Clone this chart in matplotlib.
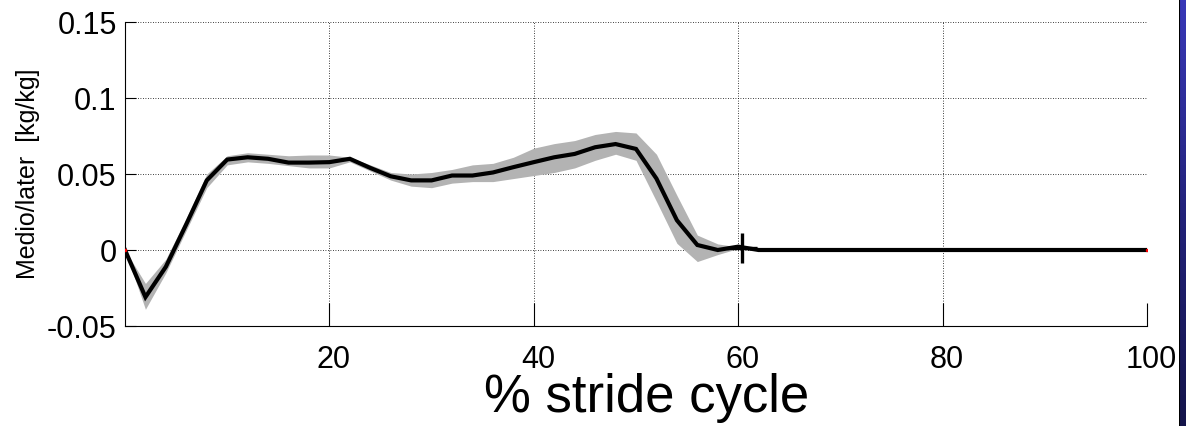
import matplotlib.pyplot as plt
import matplotlib.transforms as mtransforms
import numpy as np

# medio-lateral GRF, mean +/- band
pct = [0, 2, 4, 6, 8, 10, 12, 14, 16, 18, 20, 22, 24, 26, 28, 30, 32, 34, 36, 38,
       40, 42, 44, 46, 48, 50, 52, 54, 56, 58, 60, 62, 100]
grf_mean = [0, -0.031, -0.011, 0.017, 0.0458, 0.0595, 0.061, 0.060, 0.0575, 0.0575,
            0.0578, 0.060, 0.054, 0.0485, 0.0458, 0.0458, 0.049, 0.049, 0.051, 0.0545,
            0.0578, 0.061, 0.0632, 0.0676, 0.0697, 0.0665, 0.047, 0.0196, 0.0033, 0.0,
            0.0022, 0.0, 0.0]
grf_upper = [0, -0.022, -0.006, 0.021, 0.050, 0.062, 0.064, 0.063, 0.062, 0.0625,
             0.0625, 0.061, 0.056, 0.051, 0.050, 0.051, 0.053, 0.056, 0.057, 0.061,
             0.067, 0.070, 0.072, 0.076, 0.078, 0.077, 0.063, 0.036, 0.0098, 0.004,
             0.002, 0, 0]
grf_lower = [0, -0.039, -0.015, 0.013, 0.041, 0.056, 0.058, 0.057, 0.0555, 0.054,
             0.054, 0.058, 0.052, 0.046, 0.042, 0.041, 0.044, 0.045, 0.045, 0.047,
             0.049, 0.051, 0.054, 0.059, 0.063, 0.059, 0.032, 0.0044, -0.0076, -0.003,
             0.001, 0, 0]
toe_off = 60.4
toe_off_val = 0.0015

xticks = [20, 40, 60, 80, 100]
yticks = [-0.05, 0, 0.05, 0.1, 0.15]
ytick_labels = ["-0.05", "0", "0.05", "0.1", "0.15"]

plt.rcParams['font.family'] = ['Liberation Sans', 'DejaVu Sans']

W, H = 1186, 426
fig = plt.figure(figsize=(W / 100, H / 100), dpi=100)
ax = fig.add_axes([125 / W, 1 - 326 / H, (1147 - 125) / W, (326 - 22) / H])

ax.fill_between(pct, grf_lower, grf_upper, color='#b3b3b3', lw=0, zorder=2)
ax.plot(pct, grf_mean, color='black', lw=3, solid_joinstyle='miter', zorder=3)
ax.plot([0, 100], [0, 0], ls='none', marker='o', ms=1.5, color='red', zorder=4)
ax.plot([toe_off], [toe_off_val], marker='+', ms=22, mew=2.4, color='black', zorder=4)

ax.set_xlim(0, 100)
ax.set_ylim(-0.05, 0.15)
ax.set_xticks(xticks)
ax.set_yticks(yticks)
ax.set_yticklabels(ytick_labels)

ax.grid(True, color='black', ls=(0, (1, 2)), lw=0.6)
ax.set_axisbelow(True)
ax.spines['top'].set_visible(False)
ax.spines['right'].set_visible(False)
ax.spines['left'].set_linewidth(0.8)
ax.spines['bottom'].set_linewidth(0.8)

ax.tick_params(axis='x', direction='in', length=16.5, width=0.8, labelsize=22, pad=14)
ax.tick_params(axis='y', direction='in', length=8, width=0.8, labelsize=22, pad=6)
shift = mtransforms.ScaledTranslation(0.045, 0, fig.dpi_scale_trans)
for lab in ax.get_xticklabels():
    lab.set_transform(lab.get_transform() + shift)

ax.set_xlabel('% stride cycle', fontsize=38)
ax.xaxis.set_label_coords(0.51, -0.155)
ax.set_ylabel('Medio/later  [kg/kg]', fontsize=18)
ax.yaxis.set_label_coords(-0.083, 0.5)

# slide border on the right
bar = fig.add_axes([1179 / W, 0, 7 / W, 1])
grad = np.linspace(0, 1, 256).reshape(-1, 1)
bar.imshow(grad, aspect='auto', cmap=plt.matplotlib.colors.LinearSegmentedColormap.from_list(
    'slide', ['#3838b8', '#22227a', '#14144a']), extent=[0, 1, 0, 1], origin='upper')
bar.axvline(0.05, color='black', lw=1.5)
bar.set_axis_off()

fig.savefig('out.png', dpi=100)
